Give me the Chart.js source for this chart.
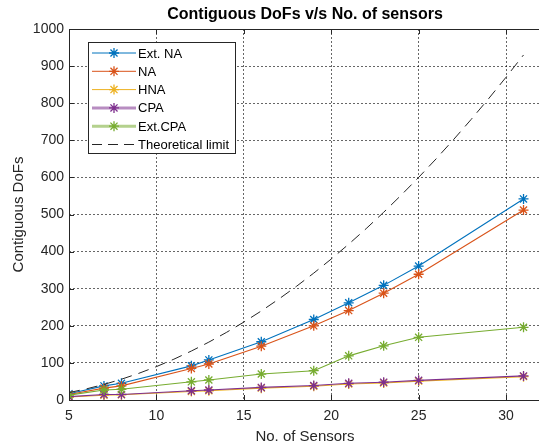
<!DOCTYPE html>
<html>
<head>
<meta charset="utf-8">
<script src="https://cdn.jsdelivr.net/npm/chart.js@4.4.1/dist/chart.umd.min.js"></script>
<style>
html, body { margin: 0; padding: 0; overflow: hidden; background: #fff; }
#wrap { width: 541px; height: 447px; }
</style>
</head>
<body>
<div id="wrap"><canvas id="dofChart" width="541" height="447"></canvas></div>
<script>
// values
const sensors = [5, 7, 8, 12, 13, 16, 19, 21, 23, 25, 31];
const extNA  = [17, 38, 45, 92, 108, 157, 217, 262, 309, 361, 542];
const na     = [15, 32, 38, 85, 97, 145, 200, 241, 288, 339, 512];
const hna    = [8, 13, 14, 23, 25, 32, 37, 43, 46, 51, 63];
const cpa    = [9, 15, 15, 25, 27, 34, 39, 45, 48, 53, 65];
const extCPA = [13, 27, 29, 49, 54, 70, 79, 119, 146, 169, 196];

const limitX = [5, 6, 7, 8, 9, 10, 11, 12, 13, 14, 15, 16, 17, 18, 19, 20, 21, 22, 23, 24, 25, 26, 27, 28, 29, 30, 31];
const limitY = [20, 30, 42, 56, 72, 90, 110, 132, 156, 182, 210, 240, 272, 306, 342, 380, 420, 462, 506, 552, 600, 650, 702, 756, 812, 870, 930];

const seriesNames = ['Ext. NA', 'NA', 'HNA', 'CPA', 'Ext.CPA', 'Theoretical limit'];
const xTicks = [5, 10, 15, 20, 25, 30];
const yTicks = [0, 100, 200, 300, 400, 500, 600, 700, 800, 900, 1000];

const colors = ['#0072BD', '#D95319', '#EDB120', '#7E2F8E', '#77AC30', '#262626'];
const FONT = "'Liberation Sans', Arial, sans-serif";
Chart.defaults.font.family = FONT;
Chart.defaults.color = '#262626';

function pairs(xs, ys) {
    return xs.map((x, i) => ({x: x, y: ys[i]}));
}

function markedSeries(idx, ys, order) {
    return {
        label: seriesNames[idx],
        data: pairs(sensors, ys),
        borderColor: colors[idx],
        backgroundColor: colors[idx],
        borderWidth: 1.1,
        pointStyle: 'star',
        pointRadius: 5,
        pointBorderWidth: 1.3,
        pointBorderColor: colors[idx],
        tension: 0,
        order: order
    };
}

// frame, inward ticks, legend and title, like the matlab figure
const figureDecor = {
    id: 'figureDecor',
    afterDraw(chart) {
        const ctx = chart.ctx;
        const a = chart.chartArea;
        const xs = chart.scales.x, ys = chart.scales.y;
        ctx.save();
        ctx.strokeStyle = '#262626';
        ctx.lineWidth = 1;
        ctx.setLineDash([]);
        ctx.beginPath();
        ctx.moveTo(a.left + 0.5, a.bottom + 0.5);
        ctx.lineTo(a.left + 0.5, a.top + 0.5);
        ctx.lineTo(a.right, a.top + 0.5);
        ctx.moveTo(a.left, a.bottom + 0.5);
        ctx.lineTo(a.right, a.bottom + 0.5);
        xTicks.forEach(v => {
            const px = Math.round(xs.getPixelForValue(v)) + 0.5;
            ctx.moveTo(px, a.bottom); ctx.lineTo(px, a.bottom - 5);
            ctx.moveTo(px, a.top); ctx.lineTo(px, a.top + 5);
        });
        yTicks.forEach(v => {
            const py = Math.round(ys.getPixelForValue(v)) + 0.5;
            ctx.moveTo(a.left, py); ctx.lineTo(a.left + 5, py);
        });
        ctx.stroke();

        // title
        ctx.fillStyle = '#000';
        ctx.font = 'bold 16px ' + FONT;
        ctx.textAlign = 'center';
        ctx.textBaseline = 'middle';
        ctx.fillText('Contiguous DoFs v/s No. of sensors', 305, 15);

        // legend box
        const bx = 88.5, by = 42.5, bw = 147, bh = 111;
        ctx.fillStyle = '#fff';
        ctx.fillRect(bx, by, bw, bh);
        ctx.strokeStyle = '#262626';
        ctx.strokeRect(bx, by, bw, bh);
        ctx.font = '13px ' + FONT;
        ctx.textAlign = 'left';
        seriesNames.forEach((name, i) => {
            const y = 53 + i * 18.3;
            ctx.save();
            ctx.strokeStyle = colors[i];
            if (i === 3 || i === 4) { ctx.lineWidth = 3; ctx.globalAlpha = 0.55; }
            else ctx.lineWidth = 1;
            if (i === 5) ctx.setLineDash([10, 6]);
            ctx.beginPath();
            ctx.moveTo(92, y); ctx.lineTo(136, y);
            ctx.stroke();
            ctx.restore();
            if (i < 5) {
                ctx.save();
                ctx.strokeStyle = colors[i];
                ctx.lineWidth = 1.3;
                ctx.beginPath();
                for (let k = 0; k < 4; k++) {
                    const ang = k * Math.PI / 4;
                    ctx.moveTo(114 - 5 * Math.cos(ang), y - 5 * Math.sin(ang));
                    ctx.lineTo(114 + 5 * Math.cos(ang), y + 5 * Math.sin(ang));
                }
                ctx.stroke();
                ctx.restore();
            }
            ctx.fillStyle = '#000';
            ctx.fillText(name, 138, y + 1);
        });
        ctx.restore();
    }
};

const ctx = document.getElementById('dofChart');

new Chart(ctx, {
    type: 'line',
    data: {
        datasets: [
            markedSeries(0, extNA, 6),
            markedSeries(1, na, 5),
            markedSeries(2, hna, 4),
            markedSeries(3, cpa, 3),
            markedSeries(4, extCPA, 2),
            {
                label: seriesNames[5],
                data: pairs(limitX, limitY),
                borderColor: colors[5],
                borderWidth: 1,
                borderDash: [11, 7],
                pointRadius: 0,
                tension: 0,
                order: 1
            }
        ]
    },
    options: {
        responsive: false,
        animation: false,
        events: [],
        layout: { autoPadding: false, padding: { top: 29, right: 0, left: 0, bottom: 0 } },
        plugins: {
            legend: { display: false },
            title: { display: false },
            tooltip: { enabled: false }
        },
        scales: {
            x: {
                type: 'linear',
                min: 5,
                max: 32,
                afterFit: s => { s.height = 47; s.paddingRight = 0; s.paddingLeft = 0; },
                afterBuildTicks: s => { s.ticks = xTicks.map(v => ({value: v})); },
                ticks: { font: { size: 14 }, padding: 8, color: '#262626', callback: v => String(v) },
                grid: { color: 'rgba(0,0,0,0.6)', drawTicks: false },
                border: { display: false, dash: [2, 2] },
                title: {
                    display: true, text: 'No. of Sensors',
                    font: { size: 15 }, color: '#262626',
                    padding: { top: 0, bottom: 1 }
                }
            },
            y: {
                min: 0,
                max: 1000,
                afterFit: s => { s.width = 69; s.paddingTop = 0; s.paddingBottom = 0; },
                afterBuildTicks: s => { s.ticks = yTicks.map(v => ({value: v})); },
                ticks: { font: { size: 14 }, padding: 5, color: '#262626', callback: v => String(v) },
                grid: { color: 'rgba(0,0,0,0.6)', drawTicks: false },
                border: { display: false, dash: [2, 2] },
                title: {
                    display: true, text: 'Contiguous DoFs',
                    font: { size: 15 }, color: '#262626',
                    padding: { top: 10, bottom: 0 }
                }
            }
        }
    },
    plugins: [figureDecor]
});
</script>
</body>
</html>
